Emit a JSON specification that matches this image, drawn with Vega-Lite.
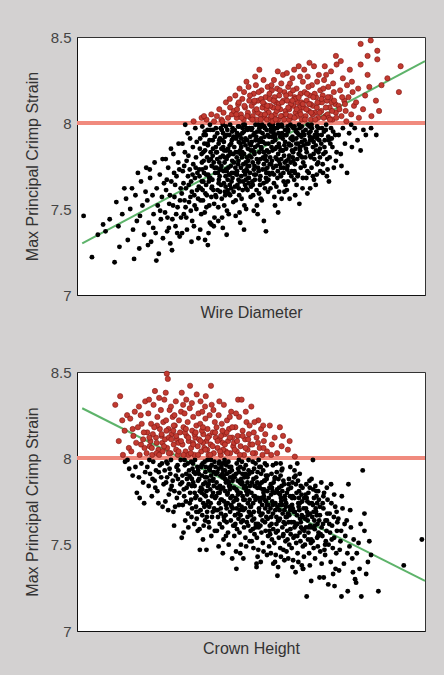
{
"$schema": "https://vega.github.io/schema/vega-lite/v6.json",
"background": "#d3d1d1",
"padding": {"left": 23, "top": 29, "right": 14, "bottom": 22},
"spacing": 43,
"config": {
  "view": {"fill": "white", "stroke": "#333333", "strokeWidth": 1},
  "axis": {"labelFont": "Liberation Sans", "titleFont": "Liberation Sans", "labelFontSize": 15, "titleFontSize": 16, "titleFontWeight": "normal", "labelColor": "#444444", "titleColor": "#333333", "grid": false, "ticks": false, "domainColor": "#111111"}
},
"datasets": {
"top": [
{"x":1.9,"y":7.46},{"x":4.3,"y":7.22},{"x":10.8,"y":7.19},{"x":8.2,"y":7.37},{"x":9.4,"y":7.44},{"x":11.3,"y":7.54},{"x":12.2,"y":7.28},{"x":14.6,"y":7.32},{"x":14.1,"y":7.56},{"x":7.5,"y":7.41},{"x":13.0,"y":7.47},{"x":11.9,"y":7.40},{"x":6.0,"y":7.35},{"x":13.6,"y":7.62},
{"x":15.3,"y":7.50},{"x":16.1,"y":7.38},{"x":16.8,"y":7.58},{"x":17.2,"y":7.43},{"x":17.9,"y":7.27},{"x":18.4,"y":7.66},{"x":18.8,"y":7.52},{"x":19.3,"y":7.35},{"x":19.7,"y":7.60},{"x":15.8,"y":7.62},{"x":17.5,"y":7.71},{"x":16.4,"y":7.21},{"x":18.1,"y":7.46},{"x":19.9,"y":7.74},
{"x":20.2,"y":7.55},{"x":20.6,"y":7.42},{"x":21.0,"y":7.68},{"x":21.3,"y":7.31},{"x":21.7,"y":7.58},{"x":22.0,"y":7.47},{"x":22.3,"y":7.77},{"x":22.6,"y":7.36},{"x":22.9,"y":7.62},{"x":23.2,"y":7.52},{"x":23.5,"y":7.24},{"x":23.8,"y":7.70},{"x":24.1,"y":7.44},{"x":24.4,"y":7.57},{"x":24.7,"y":7.33},{"x":25.0,"y":7.65},{"x":20.9,"y":7.73},{"x":21.9,"y":7.39},{"x":22.8,"y":7.20},{"x":23.9,"y":7.49},{"x":24.6,"y":7.79},{"x":20.4,"y":7.29},
{"x":25.3,"y":7.48},{"x":25.6,"y":7.61},{"x":25.9,"y":7.37},{"x":26.2,"y":7.74},{"x":26.5,"y":7.53},{"x":26.8,"y":7.30},{"x":27.1,"y":7.66},{"x":27.4,"y":7.44},{"x":27.7,"y":7.82},{"x":28.0,"y":7.57},{"x":28.3,"y":7.40},{"x":28.6,"y":7.69},{"x":28.9,"y":7.51},{"x":29.2,"y":7.88},{"x":29.5,"y":7.34},{"x":29.8,"y":7.62},{"x":25.5,"y":7.79},{"x":26.0,"y":7.45},{"x":26.7,"y":7.58},{"x":27.3,"y":7.26},{"x":27.9,"y":7.71},{"x":28.5,"y":7.47},{"x":29.1,"y":7.77},{"x":29.6,"y":7.55},{"x":25.8,"y":7.67},{"x":26.4,"y":7.39},{"x":27.0,"y":7.85},{"x":27.6,"y":7.52},{"x":28.2,"y":7.64},{"x":28.8,"y":7.36},{"x":29.4,"y":7.73},{"x":29.9,"y":7.45},
{"x":30.1,"y":7.59},{"x":30.4,"y":7.72},{"x":30.7,"y":7.47},{"x":31.0,"y":7.83},{"x":31.3,"y":7.62},{"x":31.6,"y":7.38},{"x":31.9,"y":7.69},{"x":32.2,"y":7.54},{"x":32.5,"y":7.91},{"x":32.8,"y":7.66},{"x":33.1,"y":7.43},{"x":33.4,"y":7.76},{"x":33.7,"y":7.58},{"x":34.0,"y":7.97},{"x":34.3,"y":7.50},{"x":34.6,"y":7.71},{"x":34.9,"y":7.33},{"x":30.3,"y":7.88},{"x":30.9,"y":7.55},{"x":31.5,"y":7.78},{"x":32.1,"y":7.64},{"x":32.7,"y":7.49},{"x":33.3,"y":7.86},{"x":33.9,"y":7.68},{"x":34.5,"y":7.61},{"x":30.6,"y":7.65},{"x":31.2,"y":7.51},{"x":31.8,"y":7.94},{"x":32.4,"y":7.73},{"x":33.0,"y":7.60},{"x":33.6,"y":7.40},{"x":34.2,"y":7.80},{"x":34.8,"y":7.56},{"x":30.2,"y":7.36},{"x":30.8,"y":7.75},{"x":31.4,"y":7.45},{"x":32.0,"y":7.81},{"x":32.6,"y":7.57},{"x":33.2,"y":7.70},{"x":33.8,"y":7.52},{"x":34.4,"y":7.89},{"x":35.0,"y":7.63},{"x":31.1,"y":7.99},{"x":32.9,"y":7.31},{"x":34.1,"y":7.74},
{"x":35.2,"y":7.69},{"x":35.5,"y":7.55},{"x":35.8,"y":7.82},{"x":36.1,"y":7.61},{"x":36.4,"y":7.93},{"x":36.7,"y":7.48},{"x":37.0,"y":7.74},{"x":37.3,"y":7.58},{"x":37.6,"y":7.87},{"x":37.9,"y":7.66},{"x":38.2,"y":7.42},{"x":38.5,"y":7.79},{"x":38.8,"y":7.63},{"x":39.1,"y":7.96},{"x":39.4,"y":7.53},{"x":39.7,"y":7.71},{"x":35.4,"y":7.38},{"x":35.9,"y":7.77},{"x":36.3,"y":7.66},{"x":36.8,"y":7.84},{"x":37.2,"y":7.51},{"x":37.7,"y":7.70},{"x":38.1,"y":7.90},{"x":38.6,"y":7.57},{"x":39.0,"y":7.81},{"x":39.5,"y":7.45},{"x":39.9,"y":7.86},{"x":35.6,"y":7.62},{"x":36.0,"y":7.98},{"x":36.5,"y":7.71},{"x":36.9,"y":7.59},{"x":37.4,"y":7.80},{"x":37.8,"y":7.36},{"x":38.3,"y":7.68},{"x":38.7,"y":7.75},{"x":39.2,"y":7.61},{"x":39.6,"y":7.92},{"x":35.3,"y":7.85},{"x":35.7,"y":7.47},{"x":36.2,"y":7.55},{"x":36.6,"y":7.88},{"x":37.1,"y":7.64},{"x":37.5,"y":7.96},{"x":38.0,"y":7.52},{"x":38.4,"y":7.83},{"x":38.9,"y":7.67},{"x":39.3,"y":7.77},{"x":39.8,"y":7.58},{"x":36.8,"y":7.32},{"x":37.6,"y":7.29},{"x":38.6,"y":7.41},{"x":35.1,"y":7.73},{"x":39.3,"y":7.40},{"x":36.4,"y":7.78},{"x":38.2,"y":7.99},
{"x":40.1,"y":7.74},{"x":40.4,"y":7.61},{"x":40.7,"y":7.88},{"x":41.0,"y":7.69},{"x":41.3,"y":7.97},{"x":41.6,"y":7.56},{"x":41.9,"y":7.81},{"x":42.2,"y":7.65},{"x":42.5,"y":7.92},{"x":42.8,"y":7.73},{"x":43.1,"y":7.49},{"x":43.4,"y":7.85},{"x":43.7,"y":7.70},{"x":44.0,"y":7.99},{"x":44.3,"y":7.62},{"x":44.6,"y":7.78},{"x":44.9,"y":7.54},{"x":40.2,"y":7.83},{"x":40.6,"y":7.51},{"x":40.9,"y":7.77},{"x":41.4,"y":7.64},{"x":41.8,"y":7.90},{"x":42.1,"y":7.72},{"x":42.6,"y":7.58},{"x":42.9,"y":7.84},{"x":43.3,"y":7.67},{"x":43.8,"y":7.93},{"x":44.2,"y":7.75},{"x":44.7,"y":7.68},{"x":40.3,"y":7.94},{"x":40.8,"y":7.67},{"x":41.2,"y":7.80},{"x":41.7,"y":7.45},{"x":42.0,"y":7.86},{"x":42.4,"y":7.77},{"x":42.7,"y":7.63},{"x":43.2,"y":7.96},{"x":43.6,"y":7.59},{"x":44.1,"y":7.82},{"x":44.5,"y":7.71},{"x":44.8,"y":7.91},{"x":40.5,"y":7.71},{"x":41.1,"y":7.60},{"x":41.5,"y":7.85},{"x":42.3,"y":7.52},{"x":43.0,"y":7.79},{"x":43.5,"y":7.74},{"x":43.9,"y":7.87},{"x":44.4,"y":7.66},{"x":40.0,"y":7.57},{"x":41.9,"y":7.39},{"x":42.8,"y":7.98},{"x":43.6,"y":7.47},{"x":44.6,"y":7.95},{"x":40.9,"y":7.90},{"x":42.5,"y":7.80},{"x":44.0,"y":7.58},{"x":41.3,"y":7.73},{"x":43.3,"y":7.61},{"x":40.6,"y":7.43},{"x":42.2,"y":7.89},{"x":43.9,"y":7.70},{"x":44.9,"y":7.82},{"x":41.6,"y":7.96},{"x":43.0,"y":7.35},
{"x":45.1,"y":7.77},{"x":45.4,"y":7.63},{"x":45.7,"y":7.91},{"x":46.0,"y":7.72},{"x":46.3,"y":7.98},{"x":46.6,"y":7.58},{"x":46.9,"y":7.84},{"x":47.2,"y":7.69},{"x":47.5,"y":7.94},{"x":47.8,"y":7.76},{"x":48.1,"y":7.52},{"x":48.4,"y":7.87},{"x":48.7,"y":7.73},{"x":49.0,"y":7.96},{"x":49.3,"y":7.65},{"x":49.6,"y":7.81},{"x":49.9,"y":7.57},{"x":45.2,"y":7.86},{"x":45.6,"y":7.55},{"x":45.9,"y":7.80},{"x":46.4,"y":7.67},{"x":46.8,"y":7.93},{"x":47.1,"y":7.74},{"x":47.6,"y":7.61},{"x":47.9,"y":7.89},{"x":48.3,"y":7.70},{"x":48.8,"y":7.97},{"x":49.2,"y":7.78},{"x":49.7,"y":7.71},{"x":45.3,"y":7.96},{"x":45.8,"y":7.70},{"x":46.2,"y":7.83},{"x":46.7,"y":7.48},{"x":47.0,"y":7.88},{"x":47.4,"y":7.80},{"x":47.7,"y":7.66},{"x":48.2,"y":7.99},{"x":48.6,"y":7.62},{"x":49.1,"y":7.85},{"x":49.5,"y":7.75},{"x":49.8,"y":7.92},{"x":45.5,"y":7.74},{"x":46.1,"y":7.64},{"x":46.5,"y":7.89},{"x":47.3,"y":7.56},{"x":48.0,"y":7.82},{"x":48.5,"y":7.77},{"x":48.9,"y":7.90},{"x":49.4,"y":7.68},{"x":45.0,"y":7.60},{"x":46.9,"y":7.42},{"x":47.8,"y":7.99},{"x":48.6,"y":7.50},{"x":49.6,"y":7.97},{"x":45.9,"y":7.92},{"x":47.5,"y":7.83},{"x":49.0,"y":7.61},{"x":46.3,"y":7.76},{"x":48.3,"y":7.64},{"x":45.6,"y":7.46},{"x":47.2,"y":7.91},{"x":48.9,"y":7.72},{"x":49.9,"y":7.84},{"x":46.6,"y":7.98},{"x":48.0,"y":7.38},
{"x":50.1,"y":7.80},{"x":50.4,"y":7.66},{"x":50.7,"y":7.93},{"x":51.0,"y":7.75},{"x":51.3,"y":7.99},{"x":51.6,"y":7.61},{"x":51.9,"y":7.87},{"x":52.2,"y":7.72},{"x":52.5,"y":7.95},{"x":52.8,"y":7.79},{"x":53.1,"y":7.55},{"x":53.4,"y":7.89},{"x":53.7,"y":7.76},{"x":54.0,"y":7.97},{"x":54.3,"y":7.68},{"x":54.6,"y":7.84},{"x":54.9,"y":7.60},{"x":50.2,"y":7.89},{"x":50.6,"y":7.58},{"x":50.9,"y":7.83},{"x":51.4,"y":7.70},{"x":51.8,"y":7.95},{"x":52.1,"y":7.77},{"x":52.6,"y":7.64},{"x":52.9,"y":7.91},{"x":53.3,"y":7.73},{"x":53.8,"y":7.98},{"x":54.2,"y":7.81},{"x":54.7,"y":7.74},{"x":50.3,"y":7.97},{"x":50.8,"y":7.73},{"x":51.2,"y":7.86},{"x":51.7,"y":7.52},{"x":52.0,"y":7.90},{"x":52.4,"y":7.83},{"x":52.7,"y":7.69},{"x":53.2,"y":7.99},{"x":53.6,"y":7.65},{"x":54.1,"y":7.88},{"x":54.5,"y":7.78},{"x":54.8,"y":7.93},{"x":50.5,"y":7.77},{"x":51.1,"y":7.67},{"x":51.5,"y":7.92},{"x":52.3,"y":7.59},{"x":53.0,"y":7.85},{"x":53.5,"y":7.80},{"x":53.9,"y":7.92},{"x":54.4,"y":7.71},{"x":50.0,"y":7.63},{"x":51.9,"y":7.47},{"x":53.7,"y":7.43},{"x":54.3,"y":7.37},{"x":52.8,"y":7.56},{"x":50.8,"y":7.49},{"x":51.0,"y":7.94},{"x":54.0,"y":7.62},{"x":52.4,"y":7.97},
{"x":55.1,"y":7.83},{"x":55.4,"y":7.70},{"x":55.7,"y":7.95},{"x":56.0,"y":7.78},{"x":56.3,"y":7.99},{"x":56.6,"y":7.65},{"x":56.9,"y":7.90},{"x":57.2,"y":7.75},{"x":57.5,"y":7.97},{"x":57.8,"y":7.82},{"x":58.1,"y":7.60},{"x":58.4,"y":7.92},{"x":58.7,"y":7.79},{"x":59.0,"y":7.98},{"x":59.3,"y":7.71},{"x":59.6,"y":7.87},{"x":59.9,"y":7.64},{"x":55.2,"y":7.92},{"x":55.6,"y":7.62},{"x":55.9,"y":7.86},{"x":56.4,"y":7.74},{"x":56.8,"y":7.97},{"x":57.1,"y":7.80},{"x":57.6,"y":7.68},{"x":57.9,"y":7.94},{"x":58.3,"y":7.76},{"x":58.8,"y":7.99},{"x":59.2,"y":7.84},{"x":59.7,"y":7.77},{"x":55.3,"y":7.99},{"x":55.8,"y":7.76},{"x":56.2,"y":7.89},{"x":56.7,"y":7.57},{"x":57.0,"y":7.93},{"x":57.4,"y":7.86},{"x":57.7,"y":7.72},{"x":58.2,"y":7.98},{"x":58.6,"y":7.69},{"x":59.1,"y":7.91},{"x":59.5,"y":7.81},{"x":59.8,"y":7.96},{"x":55.5,"y":7.80},{"x":56.1,"y":7.71},{"x":56.5,"y":7.94},{"x":57.3,"y":7.63},{"x":58.0,"y":7.88},{"x":58.5,"y":7.84},{"x":58.9,"y":7.94},{"x":59.4,"y":7.74},{"x":56.9,"y":7.52},{"x":58.8,"y":7.56},{"x":55.0,"y":7.67},{"x":57.8,"y":7.48},{"x":59.6,"y":7.60},
{"x":60.1,"y":7.85},{"x":60.4,"y":7.73},{"x":60.7,"y":7.96},{"x":61.0,"y":7.81},{"x":61.3,"y":7.99},{"x":61.6,"y":7.69},{"x":61.9,"y":7.92},{"x":62.2,"y":7.78},{"x":62.5,"y":7.98},{"x":62.8,"y":7.85},{"x":63.1,"y":7.64},{"x":63.4,"y":7.94},{"x":63.7,"y":7.82},{"x":64.0,"y":7.97},{"x":64.3,"y":7.74},{"x":64.6,"y":7.89},{"x":64.9,"y":7.68},{"x":60.2,"y":7.93},{"x":60.6,"y":7.66},{"x":60.9,"y":7.88},{"x":61.4,"y":7.77},{"x":61.8,"y":7.98},{"x":62.1,"y":7.83},{"x":62.6,"y":7.71},{"x":62.9,"y":7.95},{"x":63.3,"y":7.79},{"x":63.8,"y":7.99},{"x":64.2,"y":7.86},{"x":64.7,"y":7.80},{"x":60.3,"y":7.61},{"x":61.1,"y":7.56},{"x":62.0,"y":7.90},{"x":62.7,"y":7.58},{"x":63.5,"y":7.70},{"x":64.4,"y":7.93},{"x":61.5,"y":7.87},{"x":63.0,"y":7.91},{"x":64.8,"y":7.62},{"x":60.8,"y":7.79},{"x":62.4,"y":7.67},{"x":63.9,"y":7.53},{"x":61.7,"y":7.72},{"x":64.1,"y":7.84},{"x":60.5,"y":7.98},{"x":63.6,"y":7.88},
{"x":65.1,"y":7.87},{"x":65.4,"y":7.75},{"x":65.7,"y":7.96},{"x":66.0,"y":7.83},{"x":66.3,"y":7.99},{"x":66.6,"y":7.71},{"x":66.9,"y":7.92},{"x":67.2,"y":7.80},{"x":67.5,"y":7.97},{"x":67.8,"y":7.86},{"x":68.1,"y":7.67},{"x":68.4,"y":7.93},{"x":68.7,"y":7.84},{"x":69.0,"y":7.98},{"x":69.3,"y":7.77},{"x":69.6,"y":7.90},{"x":69.9,"y":7.72},{"x":65.3,"y":7.93},{"x":65.9,"y":7.68},{"x":66.5,"y":7.88},{"x":67.0,"y":7.62},{"x":67.6,"y":7.91},{"x":68.2,"y":7.79},{"x":68.8,"y":7.95},{"x":69.4,"y":7.83},{"x":65.6,"y":7.80},{"x":66.2,"y":7.59},{"x":66.8,"y":7.98},{"x":67.4,"y":7.74},{"x":68.0,"y":7.89},{"x":68.6,"y":7.64},{"x":69.2,"y":7.93},{"x":69.8,"y":7.85},{"x":67.1,"y":7.95},{"x":68.9,"y":7.70},
{"x":70.2,"y":7.88},{"x":70.6,"y":7.76},{"x":71.0,"y":7.95},{"x":71.4,"y":7.83},{"x":71.8,"y":7.69},{"x":72.2,"y":7.92},{"x":72.6,"y":7.80},{"x":73.0,"y":7.97},{"x":73.4,"y":7.86},{"x":73.8,"y":7.74},{"x":74.2,"y":7.93},{"x":74.6,"y":7.83},{"x":70.4,"y":7.97},{"x":71.2,"y":7.90},{"x":72.0,"y":7.73},{"x":72.8,"y":7.88},{"x":73.6,"y":7.95},{"x":74.4,"y":7.78},{"x":70.8,"y":7.82},{"x":71.6,"y":7.99},{"x":72.4,"y":7.66},{"x":73.2,"y":7.91},
{"x":75.2,"y":7.93},{"x":75.8,"y":7.82},{"x":76.4,"y":7.97},{"x":77.0,"y":7.88},{"x":77.6,"y":7.71},{"x":78.2,"y":7.94},{"x":79.0,"y":7.86},{"x":79.8,"y":7.97},{"x":80.6,"y":7.90},{"x":81.5,"y":7.84},{"x":82.3,"y":7.96},{"x":83.0,"y":7.93},{"x":84.5,"y":7.97},{"x":86.0,"y":7.93},{"x":76.0,"y":7.75},{"x":78.8,"y":7.99},
{"x":35.4,"y":7.91},{"x":35.9,"y":7.66},{"x":36.3,"y":7.83},{"x":36.7,"y":7.95},{"x":37.1,"y":7.70},{"x":37.5,"y":7.88},{"x":37.9,"y":7.78},{"x":38.3,"y":7.96},{"x":38.7,"y":7.62},{"x":39.1,"y":7.85},{"x":39.5,"y":7.74},{"x":39.9,"y":7.97},
{"x":40.3,"y":7.79},{"x":40.7,"y":7.65},{"x":41.1,"y":7.91},{"x":41.5,"y":7.75},{"x":41.9,"y":7.99},{"x":42.3,"y":7.84},{"x":42.7,"y":7.69},{"x":43.1,"y":7.93},{"x":43.5,"y":7.81},{"x":43.9,"y":7.64},{"x":44.3,"y":7.88},{"x":44.7,"y":7.97},
{"x":45.2,"y":7.71},{"x":45.6,"y":7.83},{"x":46.0,"y":7.94},{"x":46.4,"y":7.78},{"x":46.8,"y":7.66},{"x":47.2,"y":7.86},{"x":47.6,"y":7.97},{"x":48.0,"y":7.72},{"x":48.4,"y":7.91},{"x":48.8,"y":7.80},{"x":49.2,"y":7.68},{"x":49.6,"y":7.88},
{"x":50.1,"y":7.96},{"x":50.5,"y":7.84},{"x":50.9,"y":7.70},{"x":51.3,"y":7.90},{"x":51.7,"y":7.79},{"x":52.1,"y":7.99},{"x":52.5,"y":7.67},{"x":52.9,"y":7.86},{"x":53.3,"y":7.94},{"x":53.7,"y":7.83},{"x":54.1,"y":7.73},{"x":54.5,"y":7.96},
{"x":55.0,"y":7.88},{"x":55.4,"y":7.76},{"x":55.8,"y":7.97},{"x":56.2,"y":7.84},{"x":56.6,"y":7.70},{"x":57.0,"y":7.91},{"x":57.4,"y":7.79},{"x":57.8,"y":7.99},{"x":58.2,"y":7.86},{"x":58.6,"y":7.74},{"x":59.0,"y":7.93},{"x":59.4,"y":7.66},
{"x":59.8,"y":7.89},{"x":60.2,"y":7.78},{"x":60.6,"y":7.95},{"x":61.0,"y":7.71},{"x":61.4,"y":7.91},{"x":61.8,"y":7.84},{"x":62.2,"y":7.97},{"x":62.6,"y":7.76},{"x":63.0,"y":7.88},{"x":63.4,"y":7.69},{"x":63.8,"y":7.93},{"x":64.2,"y":7.81},
{"x":64.6,"y":7.98},{"x":65.0,"y":7.77},{"x":65.4,"y":7.90},{"x":65.8,"y":7.85},{"x":66.2,"y":7.72},{"x":66.6,"y":7.94},{"x":67.0,"y":7.81},{"x":67.4,"y":7.99},{"x":67.8,"y":7.69},{"x":68.2,"y":7.92},{"x":68.6,"y":7.87},{"x":69.0,"y":7.76},
{"x":69.4,"y":7.97},{"x":69.8,"y":7.80},{"x":70.3,"y":7.93},{"x":70.7,"y":7.71},{"x":71.1,"y":7.86},{"x":71.5,"y":7.96},{"x":71.9,"y":7.79},{"x":72.3,"y":7.90},
{"x":36.0,"y":7.73},{"x":37.0,"y":7.93},{"x":38.0,"y":7.68},{"x":39.0,"y":7.90},{"x":40.0,"y":7.83},{"x":41.0,"y":7.73},{"x":42.0,"y":7.94},{"x":43.0,"y":7.72},{"x":44.0,"y":7.83},{"x":45.0,"y":7.92},{"x":46.0,"y":7.70},{"x":47.0,"y":7.82},{"x":48.0,"y":7.95},{"x":49.0,"y":7.75},{"x":50.0,"y":7.87},{"x":51.0,"y":7.82},{"x":52.0,"y":7.74},{"x":53.0,"y":7.98},{"x":54.0,"y":7.79},{"x":55.0,"y":7.71},{"x":56.0,"y":7.92},{"x":57.0,"y":7.85},{"x":58.0,"y":7.78},{"x":59.0,"y":7.84},{"x":60.0,"y":7.93},{"x":61.0,"y":7.87},{"x":62.0,"y":7.80},{"x":63.0,"y":7.96},{"x":64.0,"y":7.86},{"x":65.0,"y":7.95},{"x":66.0,"y":7.88},{"x":67.0,"y":7.90},{"x":68.0,"y":7.82},{"x":69.0,"y":7.91},{"x":42.5,"y":7.60},{"x":46.5,"y":7.62},{"x":50.5,"y":7.64},{"x":54.5,"y":7.66},{"x":58.5,"y":7.70},{"x":62.5,"y":7.72},{"x":44.5,"y":7.90},{"x":48.5,"y":7.67},{"x":52.5,"y":7.89},{"x":56.5,"y":7.96},{"x":60.5,"y":7.75},{"x":64.5,"y":7.92},
{"x":33.5,"y":8.01},{"x":35.8,"y":8.03},{"x":37.2,"y":8.02},{"x":38.6,"y":8.05},{"x":39.4,"y":8.01},{"x":36.5,"y":8.04},
{"x":40.2,"y":8.04},{"x":40.9,"y":8.08},{"x":41.5,"y":8.02},{"x":42.1,"y":8.06},{"x":42.8,"y":8.12},{"x":43.4,"y":8.03},{"x":44.0,"y":8.09},{"x":44.5,"y":8.05},{"x":43.9,"y":8.14},{"x":41.8,"y":8.01},
{"x":45.1,"y":8.07},{"x":45.5,"y":8.16},{"x":45.9,"y":8.03},{"x":46.3,"y":8.11},{"x":46.7,"y":8.20},{"x":47.1,"y":8.05},{"x":47.5,"y":8.14},{"x":47.9,"y":8.02},{"x":48.3,"y":8.09},{"x":48.7,"y":8.24},{"x":49.1,"y":8.06},{"x":49.5,"y":8.13},{"x":49.9,"y":8.03},{"x":46.0,"y":8.08},{"x":48.0,"y":8.18},{"x":49.3,"y":8.21},
{"x":50.2,"y":8.10},{"x":50.5,"y":8.04},{"x":50.8,"y":8.17},{"x":51.1,"y":8.07},{"x":51.4,"y":8.22},{"x":51.7,"y":8.02},{"x":52.0,"y":8.13},{"x":52.4,"y":8.31},{"x":52.7,"y":8.05},{"x":53.0,"y":8.19},{"x":53.3,"y":8.09},{"x":53.6,"y":8.25},{"x":53.9,"y":8.03},{"x":54.2,"y":8.15},{"x":54.5,"y":8.08},{"x":54.8,"y":8.21},{"x":50.9,"y":8.12},{"x":51.9,"y":8.06},{"x":52.9,"y":8.14},{"x":53.8,"y":8.11},{"x":54.6,"y":8.02},{"x":51.2,"y":8.27},
{"x":55.1,"y":8.06},{"x":55.4,"y":8.14},{"x":55.7,"y":8.03},{"x":56.0,"y":8.19},{"x":56.3,"y":8.09},{"x":56.6,"y":8.25},{"x":56.9,"y":8.05},{"x":57.2,"y":8.12},{"x":57.5,"y":8.20},{"x":57.8,"y":8.02},{"x":58.1,"y":8.16},{"x":58.4,"y":8.08},{"x":58.7,"y":8.23},{"x":59.0,"y":8.04},{"x":59.3,"y":8.13},{"x":59.6,"y":8.18},{"x":59.9,"y":8.07},{"x":55.5,"y":8.10},{"x":56.2,"y":8.01},{"x":56.8,"y":8.15},{"x":57.4,"y":8.07},{"x":58.0,"y":8.11},{"x":58.6,"y":8.04},{"x":59.2,"y":8.28},{"x":55.9,"y":8.22},{"x":57.7,"y":8.30},
{"x":60.1,"y":8.05},{"x":60.4,"y":8.13},{"x":60.7,"y":8.21},{"x":61.0,"y":8.08},{"x":61.3,"y":8.17},{"x":61.6,"y":8.03},{"x":61.9,"y":8.26},{"x":62.2,"y":8.10},{"x":62.5,"y":8.15},{"x":62.8,"y":8.06},{"x":63.1,"y":8.20},{"x":63.4,"y":8.12},{"x":63.7,"y":8.33},{"x":64.0,"y":8.07},{"x":64.3,"y":8.17},{"x":64.6,"y":8.02},{"x":64.9,"y":8.24},{"x":60.3,"y":8.29},{"x":60.9,"y":8.02},{"x":61.5,"y":8.11},{"x":62.1,"y":8.19},{"x":62.7,"y":8.14},{"x":63.3,"y":8.04},{"x":63.9,"y":8.09},{"x":64.5,"y":8.12},{"x":61.2,"y":8.23},{"x":62.4,"y":8.31},{"x":64.1,"y":8.27},
{"x":65.1,"y":8.09},{"x":65.4,"y":8.18},{"x":65.7,"y":8.04},{"x":66.0,"y":8.13},{"x":66.3,"y":8.27},{"x":66.6,"y":8.07},{"x":66.9,"y":8.16},{"x":67.2,"y":8.02},{"x":67.5,"y":8.22},{"x":67.8,"y":8.10},{"x":68.1,"y":8.33},{"x":68.4,"y":8.06},{"x":68.7,"y":8.15},{"x":69.0,"y":8.24},{"x":69.3,"y":8.03},{"x":69.6,"y":8.12},{"x":69.9,"y":8.19},{"x":65.3,"y":8.31},{"x":65.9,"y":8.08},{"x":66.5,"y":8.21},{"x":67.1,"y":8.11},{"x":67.7,"y":8.05},{"x":68.3,"y":8.17},{"x":68.9,"y":8.09},{"x":69.5,"y":8.28},{"x":66.8,"y":8.35},
{"x":70.2,"y":8.07},{"x":70.6,"y":8.16},{"x":71.0,"y":8.25},{"x":71.4,"y":8.04},{"x":71.8,"y":8.13},{"x":72.2,"y":8.21},{"x":72.6,"y":8.09},{"x":73.0,"y":8.30},{"x":73.4,"y":8.02},{"x":73.8,"y":8.18},{"x":74.2,"y":8.11},{"x":74.6,"y":8.34},{"x":70.4,"y":8.12},{"x":71.2,"y":8.33},{"x":72.0,"y":8.05},{"x":72.8,"y":8.15},{"x":73.6,"y":8.23},{"x":74.4,"y":8.06},{"x":70.8,"y":8.20},{"x":71.6,"y":8.28},{"x":72.4,"y":8.03},{"x":73.2,"y":8.12},
{"x":75.2,"y":8.10},{"x":75.6,"y":8.19},{"x":76.0,"y":8.04},{"x":76.4,"y":8.26},{"x":76.8,"y":8.13},{"x":77.2,"y":8.07},{"x":77.6,"y":8.22},{"x":78.0,"y":8.15},{"x":78.4,"y":8.31},{"x":78.8,"y":8.05},{"x":79.2,"y":8.18},{"x":79.6,"y":8.10},{"x":75.8,"y":8.36},{"x":77.4,"y":8.01},{"x":79.0,"y":8.24},{"x":74.4,"y":8.39},
{"x":80.2,"y":8.12},{"x":80.8,"y":8.20},{"x":81.5,"y":8.46},{"x":81.5,"y":8.34},{"x":82.2,"y":8.08},{"x":82.8,"y":8.16},{"x":83.5,"y":8.39},{"x":83.5,"y":8.28},{"x":84.4,"y":8.48},{"x":84.6,"y":8.04},{"x":85.9,"y":8.13},{"x":86.3,"y":8.42},{"x":86.3,"y":8.37},{"x":86.8,"y":8.07},{"x":87.5,"y":8.22},{"x":89.2,"y":8.26},{"x":92.5,"y":8.18},{"x":93.0,"y":8.33},{"x":81.0,"y":8.03},{"x":84.0,"y":8.21},
{"x":45.8,"y":8.05},{"x":46.5,"y":8.12},{"x":47.3,"y":8.03},{"x":48.1,"y":8.10},{"x":48.9,"y":8.04},{"x":49.7,"y":8.16},{"x":50.4,"y":8.02},{"x":51.0,"y":8.13},{"x":51.6,"y":8.08},{"x":52.2,"y":8.18},{"x":52.8,"y":8.02},{"x":53.4,"y":8.12},{"x":54.0,"y":8.05},{"x":54.7,"y":8.10},{"x":55.3,"y":8.17},{"x":55.9,"y":8.04},{"x":56.5,"y":8.13},{"x":57.1,"y":8.02},{"x":57.7,"y":8.09},{"x":58.3,"y":8.19},{"x":58.9,"y":8.12},{"x":59.5,"y":8.02},{"x":60.1,"y":8.16},{"x":60.7,"y":8.09},{"x":61.3,"y":8.04},{"x":61.9,"y":8.13},{"x":62.5,"y":8.03},{"x":63.1,"y":8.08},{"x":63.7,"y":8.15},{"x":64.3,"y":8.05},{"x":64.9,"y":8.11},{"x":65.5,"y":8.02},{"x":66.1,"y":8.17},{"x":66.7,"y":8.11},{"x":67.3,"y":8.06},{"x":67.9,"y":8.15},{"x":68.5,"y":8.02},{"x":69.1,"y":8.12},{"x":69.7,"y":8.06},{"x":70.3,"y":8.14},{"x":70.9,"y":8.03},{"x":71.5,"y":8.09},{"x":72.1,"y":8.15},{"x":72.7,"y":8.02},{"x":73.3,"y":8.07},{"x":73.9,"y":8.13},{"x":74.5,"y":8.03},{"x":75.4,"y":8.08},{"x":76.2,"y":8.15},{"x":77.0,"y":8.11}
],
"bot": [
{"x":13.8,"y":7.98},{"x":15.0,"y":7.94},{"x":16.0,"y":7.90},{"x":17.2,"y":7.80},{"x":18.5,"y":7.97},{"x":19.0,"y":7.86},{"x":16.8,"y":7.95},{"x":18.0,"y":7.77},{"x":19.6,"y":7.92},{"x":14.5,"y":7.99},{"x":17.8,"y":7.89},{"x":19.3,"y":7.74},
{"x":20.2,"y":7.95},{"x":20.6,"y":7.84},{"x":21.0,"y":7.91},{"x":21.5,"y":7.78},{"x":21.9,"y":7.98},{"x":22.3,"y":7.87},{"x":22.7,"y":7.93},{"x":23.1,"y":7.81},{"x":23.4,"y":7.74},{"x":23.8,"y":7.96},{"x":24.2,"y":7.89},{"x":24.6,"y":7.72},{"x":20.8,"y":7.99},{"x":21.7,"y":7.88},{"x":22.5,"y":7.83},{"x":23.5,"y":7.92},{"x":24.4,"y":7.97},{"x":24.9,"y":7.85},
{"x":25.2,"y":7.93},{"x":25.6,"y":7.86},{"x":26.0,"y":7.97},{"x":26.4,"y":7.79},{"x":26.8,"y":7.91},{"x":27.2,"y":7.84},{"x":27.7,"y":7.69},{"x":28.2,"y":7.72},{"x":28.6,"y":7.95},{"x":29.0,"y":7.88},{"x":29.4,"y":7.80},{"x":29.8,"y":7.99},{"x":25.4,"y":7.75},{"x":25.9,"y":7.89},{"x":26.6,"y":7.94},{"x":27.0,"y":7.99},{"x":27.5,"y":7.87},{"x":28.0,"y":7.81},{"x":28.4,"y":7.90},{"x":28.9,"y":7.96},{"x":29.3,"y":7.73},{"x":29.7,"y":7.85},{"x":26.2,"y":7.70},{"x":27.9,"y":7.61},{"x":29.1,"y":7.93},{"x":25.7,"y":7.98},{"x":28.7,"y":7.77},{"x":26.9,"y":7.82},
{"x":30.1,"y":7.54},{"x":30.6,"y":7.57},{"x":30.3,"y":7.90},{"x":30.7,"y":7.82},{"x":31.0,"y":7.96},{"x":31.3,"y":7.75},{"x":31.6,"y":7.88},{"x":31.9,"y":7.68},{"x":32.2,"y":7.93},{"x":32.5,"y":7.80},{"x":32.8,"y":7.98},{"x":33.1,"y":7.71},{"x":33.4,"y":7.86},{"x":33.7,"y":7.62},{"x":34.0,"y":7.91},{"x":34.3,"y":7.78},{"x":34.6,"y":7.95},{"x":34.9,"y":7.69},{"x":30.4,"y":7.73},{"x":30.9,"y":7.99},{"x":31.5,"y":7.83},{"x":32.0,"y":7.60},{"x":32.6,"y":7.89},{"x":33.2,"y":7.94},{"x":33.8,"y":7.80},{"x":34.4,"y":7.65},{"x":30.2,"y":7.86},{"x":31.1,"y":7.64},{"x":31.8,"y":7.97},{"x":32.4,"y":7.74},{"x":33.0,"y":7.84},{"x":33.6,"y":7.92},{"x":34.2,"y":7.72},{"x":34.8,"y":7.87},{"x":31.4,"y":7.91},{"x":32.9,"y":7.66},{"x":33.9,"y":7.99},{"x":30.8,"y":7.78},{"x":32.1,"y":7.85},{"x":34.7,"y":7.58},
{"x":35.3,"y":7.47},{"x":37.2,"y":7.47},{"x":35.1,"y":7.88},{"x":35.4,"y":7.76},{"x":35.7,"y":7.95},{"x":36.0,"y":7.67},{"x":36.3,"y":7.85},{"x":36.6,"y":7.72},{"x":36.9,"y":7.92},{"x":37.2,"y":7.81},{"x":37.5,"y":7.99},{"x":37.8,"y":7.63},{"x":38.1,"y":7.87},{"x":38.4,"y":7.74},{"x":38.7,"y":7.96},{"x":39.0,"y":7.69},{"x":39.3,"y":7.84},{"x":39.6,"y":7.58},{"x":39.9,"y":7.91},{"x":35.2,"y":7.59},{"x":35.6,"y":7.83},{"x":36.1,"y":7.97},{"x":36.5,"y":7.79},{"x":36.8,"y":7.64},{"x":37.3,"y":7.89},{"x":37.7,"y":7.75},{"x":38.2,"y":7.93},{"x":38.6,"y":7.55},{"x":39.1,"y":7.80},{"x":39.5,"y":7.98},{"x":35.5,"y":7.70},{"x":35.9,"y":7.90},{"x":36.4,"y":7.61},{"x":36.9,"y":7.86},{"x":37.4,"y":7.69},{"x":37.9,"y":7.94},{"x":38.3,"y":7.82},{"x":38.8,"y":7.66},{"x":39.2,"y":7.88},{"x":39.7,"y":7.77},{"x":35.8,"y":7.80},{"x":36.2,"y":7.53},{"x":36.7,"y":7.98},{"x":37.1,"y":7.73},{"x":37.6,"y":7.84},{"x":38.0,"y":7.60},{"x":38.5,"y":7.90},{"x":39.4,"y":7.71},{"x":39.8,"y":7.95},{"x":37.0,"y":7.78},
{"x":40.1,"y":7.86},{"x":40.4,"y":7.70},{"x":40.7,"y":7.94},{"x":41.0,"y":7.62},{"x":41.3,"y":7.82},{"x":41.6,"y":7.76},{"x":41.9,"y":7.97},{"x":42.2,"y":7.66},{"x":42.5,"y":7.88},{"x":42.8,"y":7.73},{"x":43.1,"y":7.91},{"x":43.4,"y":7.57},{"x":43.7,"y":7.84},{"x":44.0,"y":7.69},{"x":44.3,"y":7.95},{"x":44.6,"y":7.78},{"x":44.9,"y":7.61},{"x":40.2,"y":7.58},{"x":40.6,"y":7.80},{"x":40.9,"y":7.98},{"x":41.4,"y":7.68},{"x":41.8,"y":7.89},{"x":42.1,"y":7.53},{"x":42.6,"y":7.81},{"x":42.9,"y":7.96},{"x":43.3,"y":7.74},{"x":43.8,"y":7.92},{"x":44.2,"y":7.64},{"x":44.7,"y":7.87},{"x":40.3,"y":7.92},{"x":40.8,"y":7.74},{"x":41.2,"y":7.90},{"x":41.7,"y":7.60},{"x":42.0,"y":7.83},{"x":42.4,"y":7.99},{"x":42.7,"y":7.67},{"x":43.2,"y":7.79},{"x":43.6,"y":7.86},{"x":44.1,"y":7.77},{"x":44.5,"y":7.93},{"x":44.8,"y":7.71},{"x":40.5,"y":7.66},{"x":41.1,"y":7.84},{"x":41.5,"y":7.95},{"x":42.3,"y":7.75},{"x":43.0,"y":7.63},{"x":43.5,"y":7.98},{"x":43.9,"y":7.82},{"x":44.4,"y":7.72},{"x":40.0,"y":7.78},{"x":41.9,"y":7.45},{"x":42.8,"y":7.55},{"x":43.6,"y":7.50},{"x":44.6,"y":7.42},{"x":40.7,"y":7.49},{"x":42.5,"y":7.93},{"x":44.0,"y":7.89},{"x":41.3,"y":7.71},{"x":43.3,"y":7.87},{"x":42.2,"y":7.90},
{"x":45.1,"y":7.83},{"x":45.4,"y":7.67},{"x":45.7,"y":7.91},{"x":46.0,"y":7.59},{"x":46.3,"y":7.79},{"x":46.6,"y":7.73},{"x":46.9,"y":7.95},{"x":47.2,"y":7.63},{"x":47.5,"y":7.86},{"x":47.8,"y":7.70},{"x":48.1,"y":7.89},{"x":48.4,"y":7.54},{"x":48.7,"y":7.81},{"x":49.0,"y":7.66},{"x":49.3,"y":7.93},{"x":49.6,"y":7.76},{"x":49.9,"y":7.58},{"x":45.2,"y":7.55},{"x":45.6,"y":7.77},{"x":45.9,"y":7.97},{"x":46.4,"y":7.65},{"x":46.8,"y":7.86},{"x":47.1,"y":7.50},{"x":47.6,"y":7.78},{"x":47.9,"y":7.94},{"x":48.3,"y":7.71},{"x":48.8,"y":7.90},{"x":49.2,"y":7.61},{"x":49.7,"y":7.84},{"x":45.3,"y":7.89},{"x":45.8,"y":7.36},{"x":46.2,"y":7.87},{"x":46.7,"y":7.57},{"x":47.0,"y":7.80},{"x":47.4,"y":7.98},{"x":47.7,"y":7.64},{"x":48.2,"y":7.76},{"x":48.6,"y":7.83},{"x":49.1,"y":7.74},{"x":49.5,"y":7.91},{"x":49.8,"y":7.68},{"x":45.5,"y":7.62},{"x":46.1,"y":7.81},{"x":46.5,"y":7.92},{"x":47.3,"y":7.72},{"x":48.0,"y":7.60},{"x":48.5,"y":7.96},{"x":48.9,"y":7.79},{"x":49.4,"y":7.69},{"x":45.0,"y":7.75},{"x":46.9,"y":7.45},{"x":47.8,"y":7.42},{"x":48.6,"y":7.49},{"x":49.6,"y":7.52},{"x":45.7,"y":7.46},{"x":47.5,"y":7.91},{"x":49.0,"y":7.86},{"x":46.3,"y":7.68},{"x":48.3,"y":7.84},{"x":47.2,"y":7.88},{"x":45.9,"y":7.71},{"x":49.3,"y":7.99},
{"x":50.1,"y":7.80},{"x":50.4,"y":7.64},{"x":50.7,"y":7.88},{"x":51.0,"y":7.56},{"x":51.3,"y":7.76},{"x":51.6,"y":7.37},{"x":51.9,"y":7.92},{"x":52.2,"y":7.60},{"x":52.5,"y":7.83},{"x":52.8,"y":7.67},{"x":53.1,"y":7.86},{"x":53.4,"y":7.51},{"x":53.7,"y":7.78},{"x":54.0,"y":7.63},{"x":54.3,"y":7.90},{"x":54.6,"y":7.73},{"x":54.9,"y":7.55},{"x":50.2,"y":7.52},{"x":50.6,"y":7.74},{"x":50.9,"y":7.94},{"x":51.4,"y":7.62},{"x":51.8,"y":7.83},{"x":52.1,"y":7.47},{"x":52.6,"y":7.75},{"x":52.9,"y":7.91},{"x":53.3,"y":7.68},{"x":53.8,"y":7.87},{"x":54.2,"y":7.58},{"x":54.7,"y":7.81},{"x":50.3,"y":7.86},{"x":50.8,"y":7.69},{"x":51.2,"y":7.84},{"x":51.7,"y":7.54},{"x":52.0,"y":7.77},{"x":52.4,"y":7.95},{"x":52.7,"y":7.61},{"x":53.2,"y":7.73},{"x":53.6,"y":7.80},{"x":54.1,"y":7.71},{"x":54.5,"y":7.88},{"x":54.8,"y":7.65},{"x":50.5,"y":7.59},{"x":51.1,"y":7.78},{"x":51.5,"y":7.89},{"x":52.3,"y":7.69},{"x":53.0,"y":7.57},{"x":53.5,"y":7.93},{"x":53.9,"y":7.76},{"x":54.4,"y":7.66},{"x":50.0,"y":7.72},{"x":51.9,"y":7.43},{"x":52.8,"y":7.40},{"x":53.6,"y":7.46},{"x":54.6,"y":7.44},{"x":50.7,"y":7.48},{"x":52.5,"y":7.85},{"x":54.0,"y":7.97},{"x":51.3,"y":7.97},{"x":53.3,"y":7.82},{"x":52.2,"y":7.99},{"x":51.6,"y":7.39},{"x":50.9,"y":7.65},
{"x":55.1,"y":7.77},{"x":55.4,"y":7.61},{"x":55.7,"y":7.85},{"x":56.0,"y":7.53},{"x":56.3,"y":7.73},{"x":56.4,"y":7.39},{"x":56.9,"y":7.89},{"x":57.2,"y":7.57},{"x":57.6,"y":7.32},{"x":57.8,"y":7.64},{"x":58.1,"y":7.83},{"x":58.4,"y":7.48},{"x":58.7,"y":7.75},{"x":59.0,"y":7.60},{"x":59.3,"y":7.87},{"x":59.6,"y":7.70},{"x":59.9,"y":7.52},{"x":55.2,"y":7.49},{"x":55.6,"y":7.71},{"x":55.9,"y":7.91},{"x":56.4,"y":7.59},{"x":56.8,"y":7.80},{"x":57.1,"y":7.44},{"x":57.6,"y":7.72},{"x":57.9,"y":7.88},{"x":58.3,"y":7.65},{"x":58.8,"y":7.84},{"x":59.2,"y":7.55},{"x":59.7,"y":7.78},{"x":55.3,"y":7.83},{"x":55.8,"y":7.66},{"x":56.2,"y":7.81},{"x":56.7,"y":7.51},{"x":57.0,"y":7.74},{"x":57.4,"y":7.92},{"x":57.7,"y":7.58},{"x":58.2,"y":7.70},{"x":58.6,"y":7.77},{"x":59.1,"y":7.68},{"x":59.5,"y":7.85},{"x":59.8,"y":7.62},{"x":55.5,"y":7.56},{"x":56.1,"y":7.75},{"x":56.5,"y":7.86},{"x":57.3,"y":7.66},{"x":58.0,"y":7.54},{"x":58.5,"y":7.90},{"x":58.9,"y":7.73},{"x":59.4,"y":7.63},{"x":55.0,"y":7.69},{"x":56.9,"y":7.40},{"x":57.8,"y":7.37},{"x":58.6,"y":7.43},{"x":59.6,"y":7.41},{"x":55.7,"y":7.45},{"x":57.5,"y":7.82},{"x":59.0,"y":7.94},{"x":56.3,"y":7.96},{"x":58.3,"y":7.79},{"x":57.2,"y":7.97},{"x":55.9,"y":7.62},{"x":59.3,"y":7.47},
{"x":60.1,"y":7.74},{"x":60.4,"y":7.58},{"x":60.7,"y":7.82},{"x":61.0,"y":7.50},{"x":61.3,"y":7.70},{"x":61.6,"y":7.63},{"x":61.9,"y":7.86},{"x":62.2,"y":7.54},{"x":62.5,"y":7.77},{"x":62.8,"y":7.61},{"x":63.1,"y":7.80},{"x":63.4,"y":7.45},{"x":63.7,"y":7.72},{"x":64.0,"y":7.57},{"x":64.3,"y":7.84},{"x":64.6,"y":7.67},{"x":64.9,"y":7.49},{"x":60.2,"y":7.46},{"x":60.6,"y":7.68},{"x":60.9,"y":7.88},{"x":61.4,"y":7.56},{"x":61.8,"y":7.77},{"x":62.1,"y":7.41},{"x":62.6,"y":7.69},{"x":62.9,"y":7.85},{"x":63.3,"y":7.62},{"x":63.8,"y":7.81},{"x":64.2,"y":7.52},{"x":64.7,"y":7.75},{"x":60.3,"y":7.80},{"x":60.8,"y":7.63},{"x":61.2,"y":7.78},{"x":61.7,"y":7.48},{"x":62.0,"y":7.71},{"x":62.4,"y":7.89},{"x":62.7,"y":7.55},{"x":63.2,"y":7.67},{"x":63.6,"y":7.74},{"x":64.1,"y":7.65},{"x":64.5,"y":7.79},{"x":64.8,"y":7.59},{"x":60.5,"y":7.53},{"x":61.1,"y":7.72},{"x":61.5,"y":7.83},{"x":62.3,"y":7.63},{"x":63.0,"y":7.51},{"x":63.5,"y":7.87},{"x":63.9,"y":7.70},{"x":64.4,"y":7.60},{"x":60.0,"y":7.66},{"x":61.9,"y":7.37},{"x":62.8,"y":7.34},{"x":63.6,"y":7.40},{"x":64.6,"y":7.38},{"x":60.7,"y":7.42},{"x":62.5,"y":7.93},{"x":64.0,"y":7.91},{"x":61.3,"y":7.95},{"x":63.3,"y":7.97},{"x":64.9,"y":7.36},
{"x":65.1,"y":7.71},{"x":65.4,"y":7.55},{"x":65.7,"y":7.79},{"x":66.0,"y":7.20},{"x":66.3,"y":7.67},{"x":66.6,"y":7.60},{"x":66.9,"y":7.83},{"x":67.2,"y":7.51},{"x":67.5,"y":7.74},{"x":67.8,"y":7.99},{"x":68.1,"y":7.77},{"x":68.4,"y":7.42},{"x":68.7,"y":7.69},{"x":69.0,"y":7.54},{"x":69.3,"y":7.81},{"x":69.6,"y":7.64},{"x":69.9,"y":7.46},{"x":65.2,"y":7.43},{"x":65.6,"y":7.65},{"x":65.9,"y":7.85},{"x":66.4,"y":7.53},{"x":66.8,"y":7.74},{"x":67.3,"y":7.29},{"x":67.6,"y":7.66},{"x":67.9,"y":7.82},{"x":68.3,"y":7.59},{"x":68.8,"y":7.78},{"x":69.2,"y":7.49},{"x":69.7,"y":7.31},{"x":65.3,"y":7.77},{"x":65.8,"y":7.60},{"x":66.2,"y":7.75},{"x":66.7,"y":7.45},{"x":67.0,"y":7.68},{"x":67.4,"y":7.88},{"x":67.7,"y":7.52},{"x":68.2,"y":7.64},{"x":68.6,"y":7.71},{"x":69.1,"y":7.62},{"x":69.5,"y":7.76},{"x":65.5,"y":7.50},{"x":66.1,"y":7.69},{"x":66.5,"y":7.80},{"x":67.3,"y":7.60},{"x":68.0,"y":7.48},{"x":68.5,"y":7.84},{"x":68.9,"y":7.67},{"x":69.4,"y":7.57},{"x":65.0,"y":7.36},{"x":66.9,"y":7.38},{"x":69.8,"y":7.72},
{"x":70.2,"y":7.86},{"x":70.5,"y":7.55},{"x":70.8,"y":7.71},{"x":71.1,"y":7.47},{"x":71.4,"y":7.64},{"x":71.7,"y":7.58},{"x":72.0,"y":7.76},{"x":72.3,"y":7.50},{"x":72.6,"y":7.68},{"x":72.9,"y":7.40},{"x":73.0,"y":7.85},{"x":73.3,"y":7.61},{"x":73.6,"y":7.33},{"x":73.9,"y":7.54},{"x":74.2,"y":7.72},{"x":74.5,"y":7.45},{"x":74.8,"y":7.63},{"x":70.3,"y":7.39},{"x":70.7,"y":7.62},{"x":71.0,"y":7.80},{"x":71.5,"y":7.52},{"x":71.9,"y":7.68},{"x":72.2,"y":7.27},{"x":72.7,"y":7.57},{"x":73.1,"y":7.74},{"x":73.5,"y":7.48},{"x":73.8,"y":7.66},{"x":74.3,"y":7.36},{"x":74.7,"y":7.58},{"x":70.6,"y":7.74},{"x":71.3,"y":7.44},{"x":71.8,"y":7.83},{"x":72.5,"y":7.62},{"x":73.2,"y":7.53},{"x":73.9,"y":7.79},{"x":74.6,"y":7.69},{"x":70.9,"y":7.31},{"x":74.0,"y":7.26},
{"x":75.1,"y":7.65},{"x":75.5,"y":7.47},{"x":75.9,"y":7.58},{"x":76.0,"y":7.20},{"x":76.3,"y":7.71},{"x":76.7,"y":7.39},{"x":77.1,"y":7.55},{"x":77.5,"y":7.64},{"x":77.8,"y":7.23},{"x":78.0,"y":7.85},{"x":78.3,"y":7.49},{"x":78.7,"y":7.60},{"x":79.1,"y":7.42},{"x":79.5,"y":7.53},{"x":79.9,"y":7.30},{"x":75.3,"y":7.35},{"x":76.1,"y":7.78},{"x":76.9,"y":7.62},{"x":77.7,"y":7.45},{"x":78.5,"y":7.70},{"x":79.3,"y":7.34},{"x":75.7,"y":7.52},
{"x":80.9,"y":7.51},{"x":81.2,"y":7.36},{"x":81.7,"y":7.20},{"x":82.6,"y":7.68},{"x":82.6,"y":7.58},{"x":84.5,"y":7.44},{"x":82.1,"y":7.93},{"x":86.6,"y":7.23},{"x":93.9,"y":7.38},{"x":99.1,"y":7.53},{"x":83.1,"y":7.33},{"x":80.4,"y":7.45},{"x":81.5,"y":7.62},{"x":83.6,"y":7.40},{"x":80.2,"y":7.28},{"x":84.0,"y":7.52},
{"x":32.3,"y":7.90},{"x":32.8,"y":7.76},{"x":33.3,"y":7.97},{"x":33.8,"y":7.84},{"x":34.3,"y":7.69},{"x":34.8,"y":7.93},{"x":35.3,"y":7.81},{"x":35.8,"y":7.96},{"x":36.3,"y":7.74},{"x":36.8,"y":7.89},{"x":37.3,"y":7.66},{"x":37.8,"y":7.85},
{"x":38.3,"y":7.95},{"x":38.8,"y":7.78},{"x":39.3,"y":7.92},{"x":39.8,"y":7.70},{"x":40.3,"y":7.83},{"x":40.8,"y":7.97},{"x":41.3,"y":7.76},{"x":41.8,"y":7.91},{"x":42.3,"y":7.64},{"x":42.8,"y":7.86},{"x":43.3,"y":7.80},{"x":43.8,"y":7.95},
{"x":44.3,"y":7.73},{"x":44.8,"y":7.89},{"x":45.3,"y":7.61},{"x":45.8,"y":7.82},{"x":46.3,"y":7.94},{"x":46.8,"y":7.70},{"x":47.3,"y":7.85},{"x":47.8,"y":7.76},{"x":48.3,"y":7.91},{"x":48.8,"y":7.63},{"x":49.3,"y":7.81},{"x":49.8,"y":7.72},
{"x":50.3,"y":7.92},{"x":50.8,"y":7.78},{"x":51.3,"y":7.60},{"x":51.8,"y":7.86},{"x":52.3,"y":7.71},{"x":52.8,"y":7.95},{"x":53.3,"y":7.64},{"x":53.8,"y":7.82},{"x":54.3,"y":7.75},{"x":54.8,"y":7.90},{"x":55.3,"y":7.58},{"x":55.8,"y":7.79},
{"x":56.3,"y":7.68},{"x":56.8,"y":7.88},{"x":57.3,"y":7.62},{"x":57.8,"y":7.80},{"x":58.3,"y":7.73},{"x":58.8,"y":7.93},{"x":59.3,"y":7.56},{"x":59.8,"y":7.76},{"x":60.3,"y":7.66},{"x":60.8,"y":7.85},{"x":61.3,"y":7.59},{"x":61.8,"y":7.73},
{"x":62.3,"y":7.69},{"x":62.8,"y":7.90},{"x":63.3,"y":7.55},{"x":63.8,"y":7.77},{"x":64.3,"y":7.63},{"x":64.8,"y":7.83},{"x":65.3,"y":7.58},{"x":65.8,"y":7.71},{"x":66.3,"y":7.64},{"x":66.8,"y":7.87},{"x":67.3,"y":7.53},{"x":67.8,"y":7.73},
{"x":68.3,"y":7.61},{"x":68.8,"y":7.81},{"x":69.3,"y":7.55},{"x":69.8,"y":7.67},{"x":70.3,"y":7.60},{"x":70.8,"y":7.78},{"x":71.3,"y":7.50},{"x":71.8,"y":7.64},
{"x":33.0,"y":7.88},{"x":34.0,"y":7.77},{"x":35.0,"y":7.91},{"x":36.0,"y":7.82},{"x":37.0,"y":7.95},{"x":38.0,"y":7.72},{"x":39.0,"y":7.87},{"x":40.0,"y":7.91},{"x":41.0,"y":7.80},{"x":42.0,"y":7.93},{"x":43.0,"y":7.71},{"x":44.0,"y":7.84},{"x":45.0,"y":7.90},{"x":46.0,"y":7.76},{"x":47.0,"y":7.67},{"x":48.0,"y":7.83},{"x":49.0,"y":7.89},{"x":50.0,"y":7.67},{"x":51.0,"y":7.84},{"x":52.0,"y":7.62},{"x":53.0,"y":7.77},{"x":54.0,"y":7.87},{"x":55.0,"y":7.73},{"x":56.0,"y":7.83},{"x":57.0,"y":7.70},{"x":58.0,"y":7.64},{"x":59.0,"y":7.81},{"x":60.0,"y":7.72},{"x":61.0,"y":7.67},{"x":62.0,"y":7.78},{"x":63.0,"y":7.62},{"x":64.0,"y":7.74},{"x":65.0,"y":7.66},{"x":66.0,"y":7.77},{"x":67.0,"y":7.61},{"x":68.0,"y":7.69},{"x":69.0,"y":7.74},{"x":70.0,"y":7.56},{"x":38.5,"y":7.99},{"x":42.5,"y":7.97},{"x":46.5,"y":7.99},{"x":50.5,"y":7.98},{"x":54.5,"y":7.96},{"x":58.5,"y":7.97},{"x":62.5,"y":7.60},{"x":66.5,"y":7.57},
{"x":11.0,"y":8.31},{"x":12.4,"y":8.36},{"x":13.2,"y":8.02},{"x":13.7,"y":8.16},{"x":14.4,"y":8.25},{"x":12.0,"y":8.10},{"x":14.9,"y":8.06},{"x":13.0,"y":8.22},
{"x":15.3,"y":8.23},{"x":16.2,"y":8.13},{"x":18.6,"y":8.20},{"x":19.6,"y":8.33},{"x":15.6,"y":8.04},{"x":16.6,"y":8.27},{"x":17.0,"y":8.09},{"x":17.5,"y":8.18},{"x":18.0,"y":8.02},{"x":18.3,"y":8.25},{"x":19.0,"y":8.11},{"x":19.4,"y":8.06},{"x":17.8,"y":8.30},{"x":16.0,"y":8.17},
{"x":20.2,"y":8.15},{"x":20.5,"y":8.26},{"x":20.9,"y":8.07},{"x":21.3,"y":8.20},{"x":21.6,"y":8.02},{"x":22.0,"y":8.31},{"x":22.4,"y":8.39},{"x":22.7,"y":8.12},{"x":23.1,"y":8.24},{"x":23.4,"y":8.05},{"x":23.8,"y":8.17},{"x":24.1,"y":8.28},{"x":24.5,"y":8.09},{"x":24.8,"y":8.21},{"x":20.7,"y":8.34},{"x":21.8,"y":8.14},{"x":22.9,"y":8.03},{"x":23.6,"y":8.35},{"x":24.3,"y":8.13},{"x":21.1,"y":8.10},{"x":23.0,"y":8.19},{"x":24.6,"y":8.04},
{"x":25.1,"y":8.34},{"x":25.8,"y":8.49},{"x":26.1,"y":8.46},{"x":25.3,"y":8.11},{"x":25.6,"y":8.22},{"x":25.9,"y":8.06},{"x":26.3,"y":8.17},{"x":26.6,"y":8.28},{"x":26.9,"y":8.03},{"x":27.2,"y":8.14},{"x":27.5,"y":8.24},{"x":27.8,"y":8.08},{"x":28.1,"y":8.19},{"x":28.4,"y":8.33},{"x":28.7,"y":8.11},{"x":29.0,"y":8.02},{"x":29.3,"y":8.22},{"x":29.6,"y":8.15},{"x":29.9,"y":8.27},{"x":25.5,"y":8.38},{"x":26.4,"y":8.12},{"x":27.0,"y":8.30},{"x":27.7,"y":8.16},{"x":28.5,"y":8.05},{"x":29.2,"y":8.09},{"x":28.0,"y":8.25},
{"x":30.1,"y":8.38},{"x":32.5,"y":8.42},{"x":34.4,"y":8.37},{"x":30.3,"y":8.08},{"x":30.6,"y":8.18},{"x":30.9,"y":8.26},{"x":31.2,"y":8.04},{"x":31.5,"y":8.13},{"x":31.8,"y":8.21},{"x":32.1,"y":8.10},{"x":32.4,"y":8.29},{"x":32.8,"y":8.06},{"x":33.1,"y":8.16},{"x":33.4,"y":8.24},{"x":33.7,"y":8.02},{"x":34.0,"y":8.12},{"x":34.3,"y":8.19},{"x":34.7,"y":8.07},{"x":30.5,"y":8.31},{"x":31.4,"y":8.34},{"x":32.0,"y":8.02},{"x":33.0,"y":8.32},{"x":33.8,"y":8.14},{"x":34.9,"y":8.26},{"x":31.0,"y":8.15},{"x":33.3,"y":8.09},
{"x":38.5,"y":8.42},{"x":38.7,"y":8.31},{"x":35.1,"y":8.11},{"x":35.4,"y":8.20},{"x":35.7,"y":8.04},{"x":36.0,"y":8.27},{"x":36.3,"y":8.14},{"x":36.6,"y":8.06},{"x":36.9,"y":8.23},{"x":37.2,"y":8.10},{"x":37.5,"y":8.17},{"x":37.8,"y":8.02},{"x":38.1,"y":8.25},{"x":38.4,"y":8.08},{"x":39.0,"y":8.15},{"x":39.3,"y":8.03},{"x":39.6,"y":8.21},{"x":39.9,"y":8.12},{"x":35.5,"y":8.33},{"x":36.2,"y":8.09},{"x":36.8,"y":8.30},{"x":37.4,"y":8.05},{"x":38.0,"y":8.13},{"x":39.2,"y":8.28},{"x":37.0,"y":8.36},{"x":35.9,"y":8.16},
{"x":40.1,"y":8.18},{"x":40.4,"y":8.06},{"x":40.7,"y":8.25},{"x":41.0,"y":8.11},{"x":41.3,"y":8.02},{"x":41.6,"y":8.20},{"x":41.9,"y":8.09},{"x":42.2,"y":8.31},{"x":42.5,"y":8.14},{"x":42.8,"y":8.04},{"x":43.1,"y":8.22},{"x":43.4,"y":8.10},{"x":43.7,"y":8.17},{"x":44.0,"y":8.03},{"x":44.3,"y":8.27},{"x":44.6,"y":8.12},{"x":44.9,"y":8.07},{"x":40.9,"y":8.33},{"x":42.0,"y":8.05},{"x":43.0,"y":8.15},{"x":43.9,"y":8.24},{"x":41.4,"y":8.13},
{"x":46.3,"y":8.34},{"x":47.3,"y":8.34},{"x":45.1,"y":8.09},{"x":45.5,"y":8.18},{"x":45.9,"y":8.04},{"x":46.2,"y":8.13},{"x":46.6,"y":8.24},{"x":47.0,"y":8.07},{"x":47.6,"y":8.16},{"x":48.0,"y":8.02},{"x":48.3,"y":8.11},{"x":48.7,"y":8.21},{"x":49.0,"y":8.05},{"x":49.4,"y":8.14},{"x":49.8,"y":8.08},{"x":45.7,"y":8.26},{"x":48.5,"y":8.27},{"x":49.6,"y":8.19},
{"x":50.1,"y":8.30},{"x":52.1,"y":8.22},{"x":50.4,"y":8.08},{"x":50.8,"y":8.15},{"x":51.2,"y":8.03},{"x":51.6,"y":8.12},{"x":52.5,"y":8.06},{"x":52.9,"y":8.17},{"x":53.3,"y":8.02},{"x":53.7,"y":8.10},{"x":54.1,"y":8.14},{"x":54.6,"y":8.04},{"x":51.0,"y":8.21},{"x":53.5,"y":8.19},
{"x":55.4,"y":8.19},{"x":58.3,"y":8.18},{"x":59.2,"y":8.13},{"x":61.1,"y":8.10},{"x":62.6,"y":8.01},{"x":60.6,"y":8.05},{"x":56.0,"y":8.08},{"x":56.8,"y":8.12},{"x":57.5,"y":8.03},{"x":58.8,"y":8.07},{"x":55.8,"y":8.02},
{"x":18.4,"y":8.08},{"x":19.2,"y":8.15},{"x":20.0,"y":8.03},{"x":20.8,"y":8.12},{"x":21.5,"y":8.06},{"x":22.2,"y":8.18},{"x":22.9,"y":8.09},{"x":23.6,"y":8.02},{"x":24.3,"y":8.14},{"x":25.0,"y":8.07},{"x":25.7,"y":8.16},{"x":26.4,"y":8.03},{"x":27.1,"y":8.11},{"x":27.8,"y":8.19},{"x":28.5,"y":8.13},{"x":29.2,"y":8.04},{"x":29.9,"y":8.10},{"x":30.6,"y":8.02},{"x":31.3,"y":8.17},{"x":32.0,"y":8.12},{"x":32.7,"y":8.03},{"x":33.4,"y":8.08},{"x":34.1,"y":8.15},{"x":34.8,"y":8.02},{"x":35.5,"y":8.10},{"x":36.2,"y":8.18},{"x":36.9,"y":8.05},{"x":37.6,"y":8.12},{"x":38.3,"y":8.02},{"x":39.0,"y":8.07},{"x":39.7,"y":8.15},{"x":40.4,"y":8.10},{"x":41.1,"y":8.04},{"x":41.8,"y":8.16},{"x":42.5,"y":8.08},{"x":43.2,"y":8.03},{"x":43.9,"y":8.12},{"x":44.6,"y":8.18},{"x":45.3,"y":8.05},{"x":46.0,"y":8.10},{"x":46.8,"y":8.02},{"x":47.6,"y":8.13},{"x":48.4,"y":8.06},{"x":49.2,"y":8.11},{"x":50.5,"y":8.03},{"x":52.0,"y":8.09},{"x":53.6,"y":8.06}
]
},
"vconcat": [
{
 "width": 348, "height": 258,
 "layer": [
  {"data": {"name": "top"}, "mark": {"type": "rule", "color": "#f08a7e", "strokeWidth": 3.5}, "encoding": {"y": {"datum": 8, "type": "quantitative", "scale": {"domain": [7, 8.5], "nice": false, "zero": false}}}},
  {"data": {"values": [{"x": 1.5, "y": 7.30}, {"x": 100, "y": 8.36}]}, "mark": {"type": "line", "color": "#5db36a", "strokeWidth": 2}, "encoding": {"x": {"field": "x", "type": "quantitative"}, "y": {"field": "y", "type": "quantitative"}}},
  {"data": {"name": "top"}, "transform": [{"filter": "datum.y <= 8"}], "mark": {"type": "point", "shape": "circle", "filled": true, "size": 24, "color": "#000000", "opacity": 1},
   "encoding": {
    "x": {"field": "x", "type": "quantitative", "scale": {"domain": [0, 100], "nice": false, "zero": false}, "axis": {"labels": false, "title": "Wire Diameter", "titlePadding": 9}},
    "y": {"field": "y", "type": "quantitative", "scale": {"domain": [7, 8.5], "nice": false, "zero": false}, "axis": {"values": [7, 7.5, 8, 8.5], "format": "~g", "title": "Max Principal Crimp Strain", "labelPadding": 6, "titlePadding": 10}}}},
  {"data": {"name": "top"}, "transform": [{"filter": "datum.y > 8"}], "mark": {"type": "point", "shape": "circle", "filled": true, "size": 28, "color": "#c23a30", "stroke": "#7d1612", "strokeWidth": 0.6, "opacity": 1},
   "encoding": {"x": {"field": "x", "type": "quantitative"}, "y": {"field": "y", "type": "quantitative"}}}
 ]
},
{
 "width": 348, "height": 259,
 "layer": [
  {"data": {"name": "bot"}, "mark": {"type": "rule", "color": "#f08a7e", "strokeWidth": 3.5}, "encoding": {"y": {"datum": 8, "type": "quantitative", "scale": {"domain": [7, 8.5], "nice": false, "zero": false}}}},
  {"data": {"values": [{"x": 1.5, "y": 8.29}, {"x": 100, "y": 7.29}]}, "mark": {"type": "line", "color": "#5db36a", "strokeWidth": 2}, "encoding": {"x": {"field": "x", "type": "quantitative"}, "y": {"field": "y", "type": "quantitative"}}},
  {"data": {"name": "bot"}, "transform": [{"filter": "datum.y <= 8"}], "mark": {"type": "point", "shape": "circle", "filled": true, "size": 24, "color": "#000000", "opacity": 1},
   "encoding": {
    "x": {"field": "x", "type": "quantitative", "scale": {"domain": [0, 100], "nice": false, "zero": false}, "axis": {"labels": false, "title": "Crown Height", "titlePadding": 9}},
    "y": {"field": "y", "type": "quantitative", "scale": {"domain": [7, 8.5], "nice": false, "zero": false}, "axis": {"values": [7, 7.5, 8, 8.5], "format": "~g", "title": "Max Principal Crimp Strain", "labelPadding": 6, "titlePadding": 10}}}},
  {"data": {"name": "bot"}, "transform": [{"filter": "datum.y > 8"}], "mark": {"type": "point", "shape": "circle", "filled": true, "size": 28, "color": "#c23a30", "stroke": "#7d1612", "strokeWidth": 0.6, "opacity": 1},
   "encoding": {"x": {"field": "x", "type": "quantitative"}, "y": {"field": "y", "type": "quantitative"}}}
 ]
}
]
}
